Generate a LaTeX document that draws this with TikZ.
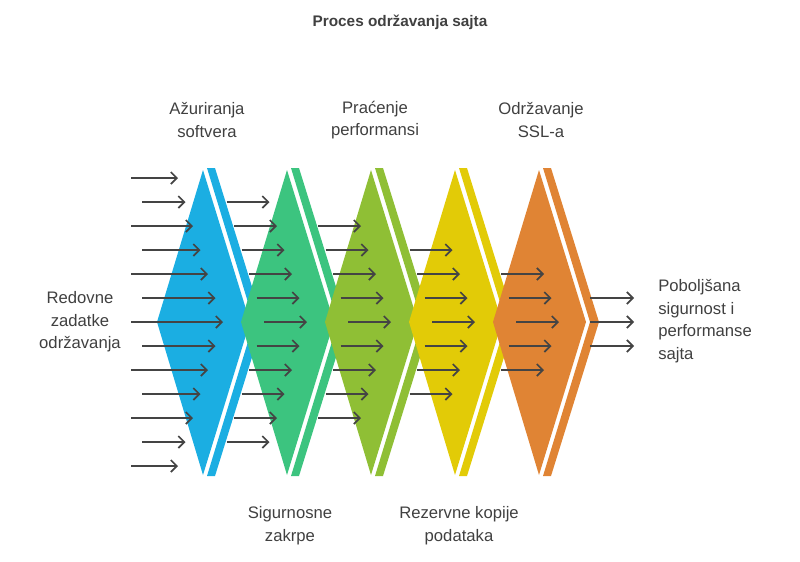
\documentclass[tikz,border=0pt]{standalone}
\usepackage{fontspec}
\setmainfont{Liberation Sans}
\usetikzlibrary{arrows.meta}
\definecolor{cBlue}{HTML}{1BAEE2}
\definecolor{cGreen}{HTML}{3CC47F}
\definecolor{cOlive}{HTML}{8FBF35}
\definecolor{cYellow}{HTML}{E2CB07}
\definecolor{cOrange}{HTML}{E08434}
\definecolor{cArrow}{HTML}{444444}
\begin{document}
\begin{tikzpicture}[x=0.75pt, y=-0.75pt,
    flow/.style={draw=cArrow, line width=1.3pt, -{Straight Barb[length=4.5pt, width=9pt]}},
    lbl/.style={font=\fontsize{12.5}{17}\selectfont, text=black!75, align=center, inner sep=0pt}]
    \useasboundingbox (0,0) rectangle (800,561);

    % Stages
    \foreach \c [count=\k from 0] in {cBlue, cGreen, cOlive, cYellow, cOrange} {
        \fill[\c] (203+84*\k,170) -- (250+84*\k,322) -- (203+84*\k,475) -- (157+84*\k,322) -- cycle;
        \fill[\c] (207+84*\k,168) -- (215+84*\k,168) -- (263+84*\k,322) -- (215+84*\k,476) -- (207+84*\k,476) -- (254+84*\k,322) -- cycle;
    }

    % Arrows of the first stage
    \foreach \j in {-6,...,6} {
        \pgfmathsetmacro{\xe}{223-7.5*abs(\j)}
        \pgfmathsetmacro{\xs}{isodd(\j) ? 142 : 131}
        \coordinate (s0\j) at (\xs,322+24*\j);
        \coordinate (e0\j) at (\xe,322+24*\j);
        \draw[flow] (s0\j) -- (e0\j);
    }

    % Arrows of the following stages
    \foreach \k in {1,...,4} {
        \pgfmathtruncatemacro{\n}{6-\k}
        \foreach \j in {-\n,...,\n} {
            \pgfmathsetmacro{\xe}{223+84*\k-7.5*abs(\j)}
            \coordinate (s\k\j) at (\xe-43,322+24*\j);
            \coordinate (e\k\j) at (\xe,322+24*\j);
            \draw[flow] (s\k\j) -- (e\k\j);
        }
    }

    % Output arrows
    \foreach \j in {-1,0,1} {
        \coordinate (so\j) at (590,322+24*\j);
        \coordinate (eo\j) at (634,322+24*\j);
        \draw[flow] (so\j) -- (eo\j);
    }

    % Labels
    \node[lbl, font=\bfseries\fontsize{11.5}{14}\selectfont] (title) at (400,22) {Proces održavanja sajta};
    \node[lbl] (upd) at (207,120) {Ažuriranja\\softvera};
    \node[lbl] (perf) at (375,120) {Praćenje\\performansi};
    \node[lbl] (ssl) at (541,120) {Održavanje\\SSL-a};
    \node[lbl] (sec) at (290,526) {Sigurnosne\\zakrpe};
    \node[lbl] (bak) at (459,526) {Rezervne kopije\\podataka};
    \node[lbl] (in) at (80,322) {Redovne\\zadatke\\održavanja};
    \node[lbl, align=left, anchor=west] (out) at (658,321) {Poboljšana\\sigurnost i\\performanse\\sajta};
\end{tikzpicture}
\end{document}
